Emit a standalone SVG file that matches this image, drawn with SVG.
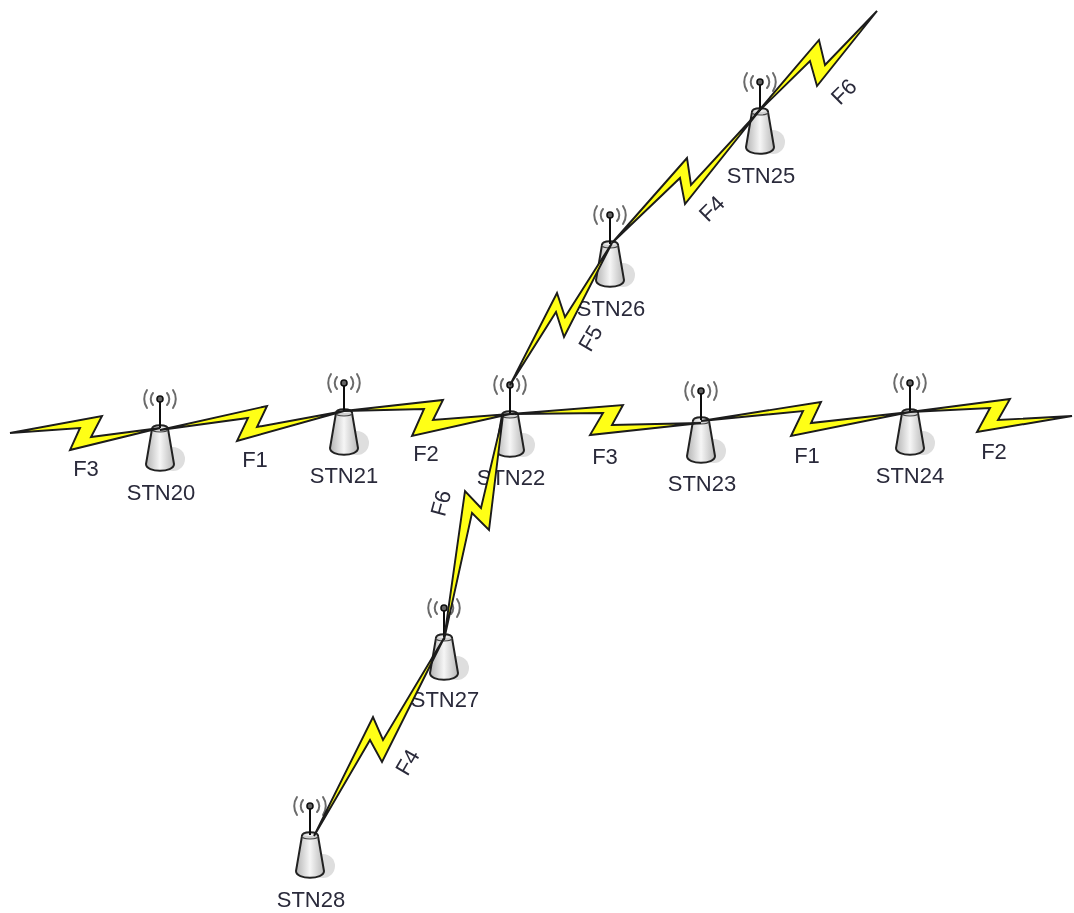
<svg xmlns="http://www.w3.org/2000/svg" width="1074" height="913" viewBox="0 0 1074 913">
<style>
text{font-family:"Liberation Sans",Arial,sans-serif;font-size:22px;fill:#2a2a3a;text-anchor:middle}
.bolt{fill:#ffff19;stroke:#1a1a1a;stroke-width:1.9;stroke-linejoin:miter}
.ring{fill:none;stroke:#6a6a6a;stroke-width:2;stroke-linecap:round}
</style>
<defs>
<filter id="soft" x="0" y="0" width="1" height="1"><feGaussianBlur stdDeviation="0.7"/></filter>
<linearGradient id="metal" x1="0" x2="1" y1="0" y2="0">
<stop offset="0" stop-color="#b4b4b4"/><stop offset=".5" stop-color="#f6f6f6"/><stop offset="1" stop-color="#b8b8b8"/>
</linearGradient>
<g id="tower">
<ellipse cx="13" cy="60" rx="12" ry="12" fill="#dedede"/>
<path d="M-8,30 C-8,25 8,25 8,30 L14,65 C14,74 -14,74 -14,65 Z" fill="url(#metal)" stroke="#222" stroke-width="2"/>
<path d="M-8,30 C-8,34 8,34 8,30" fill="#d0d0d0" stroke="#444" stroke-width="1.2"/>
<line x1="0" y1="0" x2="0" y2="29" stroke="#111" stroke-width="2"/>
<circle r="3" fill="#666" stroke="#111" stroke-width="1.6"/>
<path class="ring" d="M-7,-6 A9,9 0 0 0 -7,6 M7,-6 A9,9 0 0 1 7,6 M-13,-9 A16,16 0 0 0 -13,9 M13,-9 A16,16 0 0 1 13,9"/>
</g>
</defs>
<g filter="url(#soft)">
<rect width="1074" height="913" fill="#fff"/>
<g id="STN20"><use href="#tower" x="160" y="399"/><text x="161" y="500">STN20</text></g>
<g id="STN21"><use href="#tower" x="344" y="383"/><text x="344" y="483">STN21</text></g>
<g id="STN22"><use href="#tower" x="510" y="385"/><text x="511" y="485">STN22</text></g>
<g id="STN23"><use href="#tower" x="701" y="391"/><text x="702" y="491">STN23</text></g>
<g id="STN24"><use href="#tower" x="910" y="383"/><text x="910" y="483">STN24</text></g>
<g id="STN25"><use href="#tower" x="760" y="82"/><text x="761" y="183">STN25</text></g>
<g id="STN26"><use href="#tower" x="610" y="215"/><text x="611" y="316">STN26</text></g>
<g id="STN27"><use href="#tower" x="444" y="608"/><text x="445" y="707">STN27</text></g>
<g id="STN28"><use href="#tower" x="310" y="806"/><text x="311" y="907">STN28</text></g>
<g id="connectors">
<polygon class="bolt" points="10,433 102,416 91,437 160,428 70,450 80,428"/>
<polygon class="bolt" points="160,430 267,406 257,427 344,411 237,441 248,418"/>
<polygon class="bolt" points="344,411 443,400 433,420 510,414 412,436 424,409"/>
<polygon class="bolt" points="510,414 623,405 612,425 701,423 590,435 603,413"/>
<polygon class="bolt" points="701,421 821,402 811,423 910,412 791,436 803,411"/>
<polygon class="bolt" points="910,412 1010,399 998,420 1072,416 977,432 990,408"/>
<polygon class="bolt" points="510,385 557,293 565,317 612,243 564,337 556,312"/>
<polygon class="bolt" points="612,243 687,158 691,185 760,110 685,204 680,178"/>
<polygon class="bolt" points="755,115 819,40 825,65 877,11 817,86 810,61"/>
<polygon class="bolt" points="503,415 489,530 472,513 444,640 465,491 481,508"/>
<polygon class="bolt" points="444,638 382,762 370,740 314,836 373,717 383,740"/>
<text x="86" y="476">F3</text>
<text x="255" y="467">F1</text>
<text x="426" y="461">F2</text>
<text x="605" y="464">F3</text>
<text x="807" y="463">F1</text>
<text x="994" y="459">F2</text>
<text transform="translate(597,342) rotate(-60)">F5</text>
<text transform="translate(717,214) rotate(-45)">F4</text>
<text transform="translate(849,97) rotate(-45)">F6</text>
<text transform="translate(448,505) rotate(-75)">F6</text>
<text transform="translate(414,766) rotate(-60)">F4</text>
</g>
</g>
</svg>
